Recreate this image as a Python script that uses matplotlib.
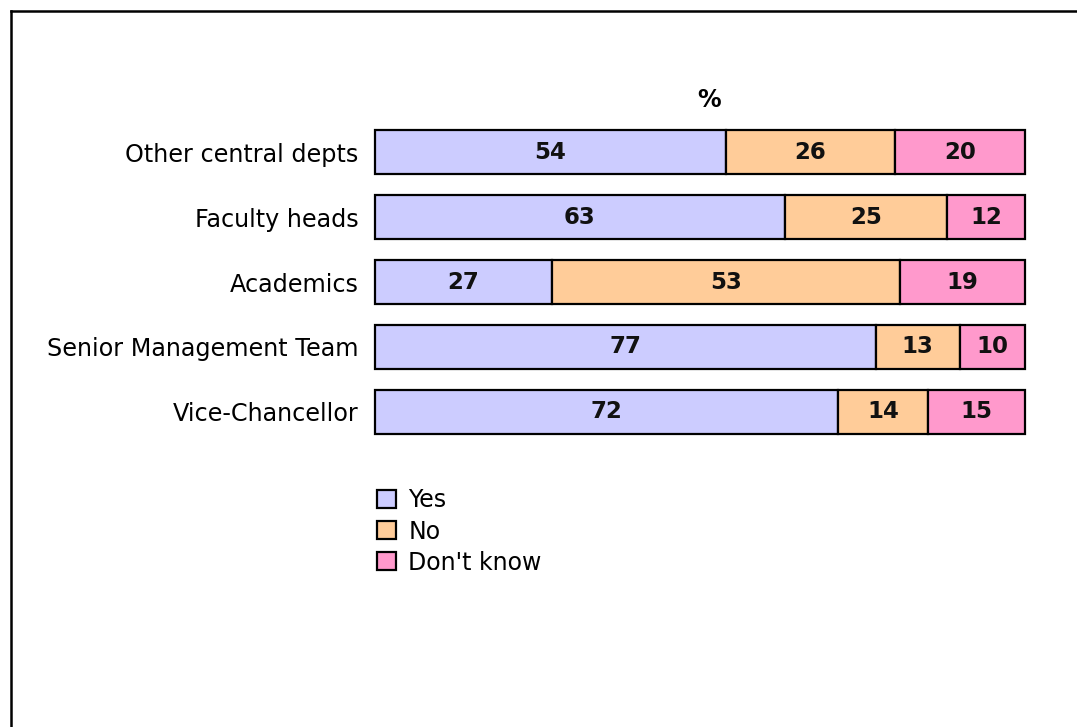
import numpy as np
import matplotlib.pyplot as plt
from matplotlib.patches import Patch

# survey shares (%), rows drawn as 100% stacked bars
groups = ["Other central depts", "Faculty heads", "Academics",
          "Senior Management Team", "Vice-Chancellor"]
yes = np.array([54, 63, 27, 77, 72])
no = np.array([26, 25, 53, 13, 14])
dont_know = np.array([20, 12, 19, 10, 15])

series = [("Yes", yes, "#CCCCFF"), ("No", no, "#FFCC99"), ("Don't know", dont_know, "#FF99CC")]
totals = yes + no + dont_know

fig = plt.figure(figsize=(10.77, 7.27), dpi=100)
ax = fig.add_axes([375 / 1077, 1 - 434 / 727, 650 / 1077, 304 / 727])

ypos = np.arange(len(groups))
left = np.zeros(len(groups))
handles = []
for name, vals, col in series:
    w = vals / totals * 100
    bars = ax.barh(ypos, w, left=left, height=0.68, color=col, edgecolor="black", linewidth=1.6)
    for b in bars:
        b.set_clip_on(False)
    for y, l, ww, v in zip(ypos, left, w, vals):
        ax.text(l + ww / 2, y, str(v), ha="center", va="center",
                fontsize=16.5, fontweight="bold", color="#111111")
    left += w
    handles.append(Patch(facecolor=col, edgecolor="black", linewidth=1.6, label=name))

ax.set_xlim(0, 100)
ax.set_ylim(4.34, -0.34)
ax.set_yticks(ypos)
ax.set_yticklabels(groups, fontsize=17.2)
ax.tick_params(axis="y", length=0, pad=12)
ax.set_xticks([])
for s in ax.spines.values():
    s.set_visible(False)

fig.text(709 / 1077, 1 - 100 / 727, "%", ha="center", va="center", fontsize=17, fontweight="bold")

fig.legend(handles=handles, loc="upper left", bbox_to_anchor=(368 / 1077, 1 - 479 / 727),
           frameon=False, fontsize=17, handlelength=0.8, handleheight=0.8,
           handletextpad=0.5, labelspacing=0.3, borderaxespad=0)

# outer frame (top and left visible, runs off the image)
fig.add_artist(plt.Line2D([11 / 1077, 11 / 1077], [0, 1 - 11 / 727], color="black", linewidth=1.8))
fig.add_artist(plt.Line2D([11 / 1077, 1], [1 - 11 / 727, 1 - 11 / 727], color="black", linewidth=1.8))

plt.savefig("out.png", dpi=100)
